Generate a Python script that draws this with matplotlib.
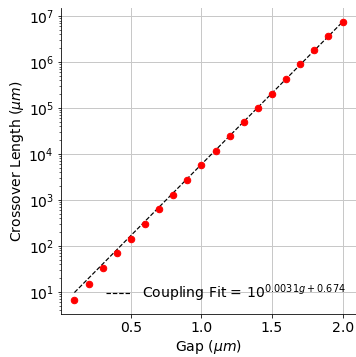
import matplotlib
matplotlib.use('Agg')
import matplotlib.pyplot as plt
import numpy as np

# gap values (um) and crossover lengths (um)
gap = [0.1, 0.2, 0.3, 0.4, 0.5, 0.6, 0.7, 0.8, 0.9, 1.0,
       1.1, 1.2, 1.3, 1.4, 1.5, 1.6, 1.7, 1.8, 1.9, 2.0]
crossover = [6.6, 14.8, 32.7, 70, 142, 305, 630, 1300, 2750, 5700,
             11600, 24000, 50000, 1.0e5, 2.05e5, 4.3e5, 8.9e5, 1.8e6, 3.7e6, 7.4e6]

# fit coefficients from the legend (g in nm)
fit_slope = 0.0031
fit_offset = 0.674

dpi = 72
fig = plt.figure(figsize=(356/dpi, 357/dpi), dpi=dpi)
ax = fig.add_axes([61/356, 1-314/357, (356-61)/356, (314-8)/357])

g = np.array(gap)
fit = 10**(fit_slope*g*1000 + fit_offset)
ax.plot(gap, fit, '--', color='black', lw=1.2,
        label=r'Coupling Fit = $10^{%.4fg + %.3f}$' % (fit_slope, fit_offset))
ax.plot(gap, crossover, 'o', color='red', markersize=6.5)
ax.set_yscale('log')

ax.grid(True, which='major', color='#c8c8c8', lw=1)
ax.set_axisbelow(True)
ax.spines['top'].set_visible(False)
ax.spines['right'].set_visible(False)
ax.tick_params(labelsize=14)
ax.set_xticks([0.5, 1.0, 1.5, 2.0])
ax.set_xlabel(r'Gap ($\mu m$)', fontsize=14, labelpad=3)
ax.set_ylabel(r'Crossover Length ($\mu m$)', fontsize=14, labelpad=2)
ax.legend(loc='lower right', frameon=False, fontsize=14, handlelength=1.8,
          borderaxespad=0.3)

fig.savefig('out.png', dpi=dpi)
